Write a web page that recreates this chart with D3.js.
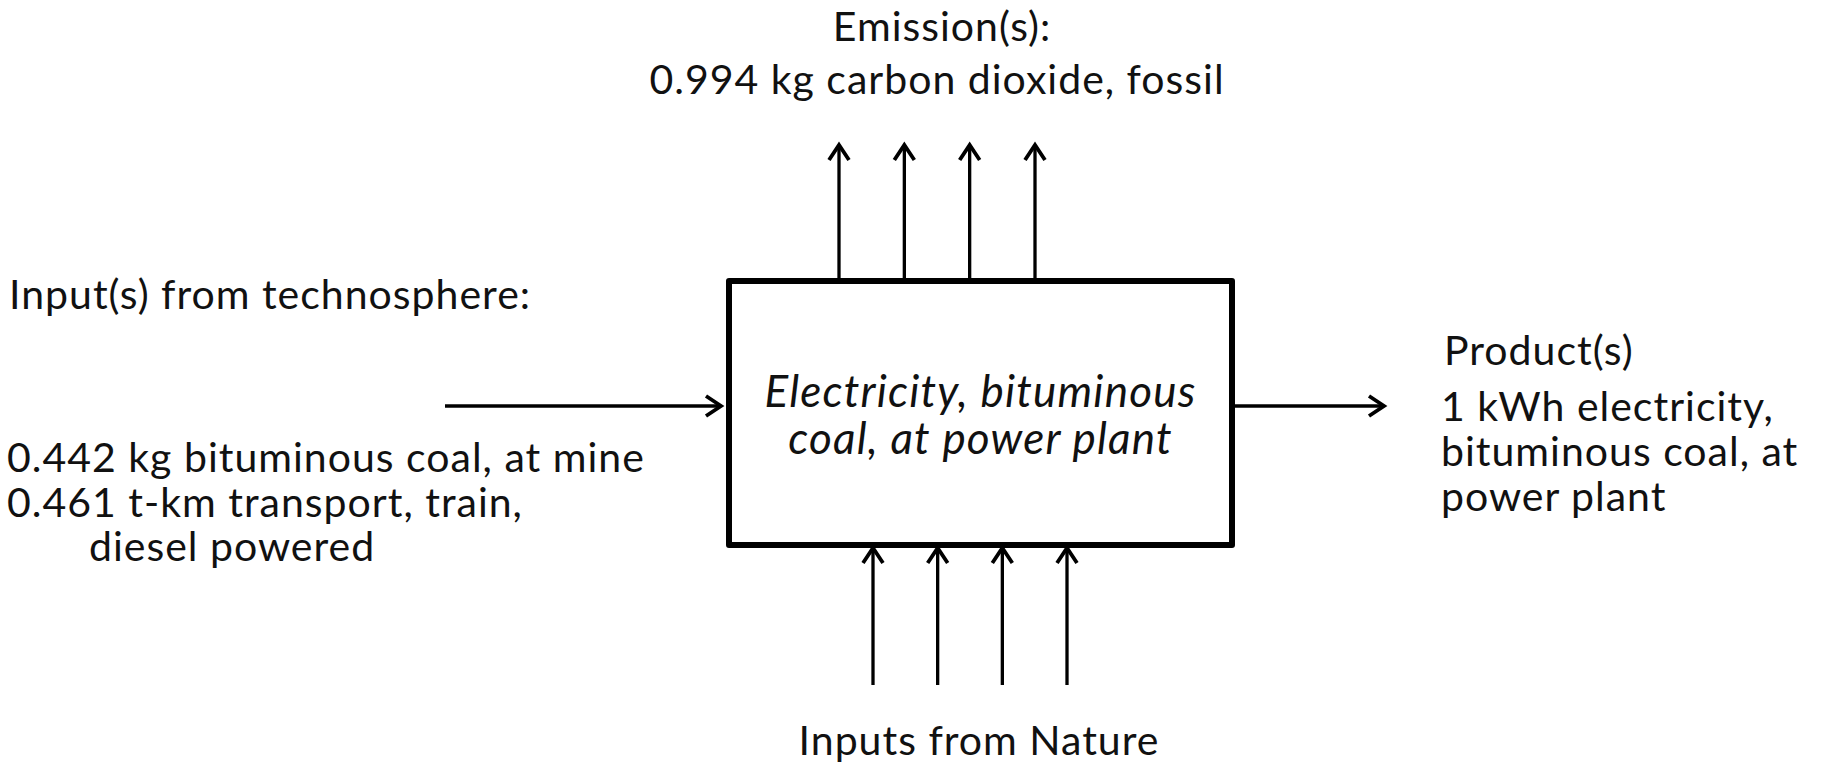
<!DOCTYPE html>
<html>
<head>
<meta charset="utf-8">
<script src="https://cdn.jsdelivr.net/npm/d3@7"></script>
<style>
  html, body { margin: 0; padding: 0; background: #fff; }
  svg { display: block; }
  text { font-family: Lato, "Open Sans", sans-serif; fill: #111; }
</style>
</head>
<body>
<div id="chart"></div>
<script>
// diagram content
const emissionLines = ['Emission(s):', '0.994 kg carbon dioxide, fossil'];
const techTitle = 'Input(s) from technosphere:';
const techLines = ['0.442 kg bituminous coal, at mine', '0.461 t-km transport, train,', 'diesel powered'];
const techIndent = [0, 0, 1];
const productTitle = 'Product(s)';
const productLines = ['1 kWh electricity,', 'bituminous coal, at', 'power plant'];
const processLines = ['Electricity, bituminous', 'coal, at power plant'];
const natureLabel = 'Inputs from Nature';
const emissionArrows = ['e1', 'e2', 'e3', 'e4'];
const natureArrows = ['n1', 'n2', 'n3', 'n4'];

const width = 1837;
const height = 766;
const fontSize = 41;
const spacing = 1;
const italicSize = 44;
const lineGap = 44.5;

const box = { x0: 729, x1: 1232, y0: 281, y1: 545 };

const svg = d3
  .select('#chart')
  .append('svg')
  .attr('width', width)
  .attr('height', height);

svg
  .append('defs')
  .append('marker')
  .attr('id', 'head')
  .attr('viewBox', '-20 -12 24 24')
  .attr('refX', 0)
  .attr('refY', 0)
  .attr('markerUnits', 'userSpaceOnUse')
  .attr('markerWidth', 24)
  .attr('markerHeight', 24)
  .attr('orient', 'auto')
  .append('path')
  .attr('d', 'M-15,-10L0,0L-15,10')
  .attr('fill', 'none')
  .attr('stroke', '#000')
  .attr('stroke-width', 3.8);

// arrow positions
const xTop = d3.scalePoint().domain(emissionArrows).range([839, 1035]);
const xBottom = d3.scalePoint().domain(natureArrows).range([873, 1067]);

const arrows = svg.append('g').attr('stroke', '#000').attr('stroke-width', 3.3);

arrows
  .selectAll('.up')
  .data(emissionArrows)
  .join('line')
  .attr('x1', (d) => xTop(d))
  .attr('x2', (d) => xTop(d))
  .attr('y1', box.y0)
  .attr('y2', 145)
  .attr('marker-end', 'url(#head)');

arrows
  .selectAll('.nature')
  .data(natureArrows)
  .join('line')
  .attr('x1', (d) => xBottom(d))
  .attr('x2', (d) => xBottom(d))
  .attr('y1', 685)
  .attr('y2', box.y1 + 3)
  .attr('marker-end', 'url(#head)');

const midY = 406;
arrows
  .append('line')
  .attr('x1', 445)
  .attr('x2', box.x0 - 8)
  .attr('y1', midY)
  .attr('y2', midY)
  .attr('marker-end', 'url(#head)');

arrows
  .append('line')
  .attr('x1', box.x1)
  .attr('x2', 1384)
  .attr('y1', midY)
  .attr('y2', midY)
  .attr('marker-end', 'url(#head)');

// process box
svg
  .append('rect')
  .attr('x', box.x0)
  .attr('y', box.y0)
  .attr('width', box.x1 - box.x0)
  .attr('height', box.y1 - box.y0)
  .attr('fill', 'none')
  .attr('stroke', '#000')
  .attr('stroke-width', 6)
  .attr('stroke-linejoin', 'round');

svg
  .selectAll('.proc')
  .data(processLines)
  .join('text')
  .attr('x', (box.x0 + box.x1) / 2)
  .attr('y', (d, i) => 407 + i * 47)
  .attr('text-anchor', 'middle')
  .style('font-style', 'italic')
  .style('font-size', italicSize + 'px')
  .style('letter-spacing', '1.2px')
  .text((d) => d);

// all upright labels share size and spacing
function label(sel) {
  return sel.style('font-size', fontSize + 'px').style('letter-spacing', spacing + 'px');
}

// emissions
svg
  .selectAll('.em')
  .data(emissionLines)
  .join('text')
  .attr('x', (d, i) => (i === 0 ? 942 : 937))
  .attr('y', (d, i) => 41 + i * 53)
  .attr('text-anchor', 'middle')
  .call(label)
  .text((d) => d);

// technosphere inputs
svg
  .append('text')
  .attr('x', 9)
  .attr('y', 309)
  .call(label)
  .text(techTitle);

svg
  .selectAll('.tech')
  .data(techLines)
  .join('text')
  .attr('x', (d, i) => (techIndent[i] ? 89 : 7))
  .attr('y', (d, i) => 472 + i * lineGap)
  .call(label)
  .text((d) => d);

// products
svg
  .append('text')
  .attr('x', 1444)
  .attr('y', 365)
  .call(label)
  .text(productTitle);

svg
  .selectAll('.prod')
  .data(productLines)
  .join('text')
  .attr('x', 1441)
  .attr('y', (d, i) => 421 + i * 45)
  .call(label)
  .text((d) => d);

// nature
svg
  .append('text')
  .attr('x', 979)
  .attr('y', 755)
  .attr('text-anchor', 'middle')
  .call(label)
  .text(natureLabel);
</script>
</body>
</html>
